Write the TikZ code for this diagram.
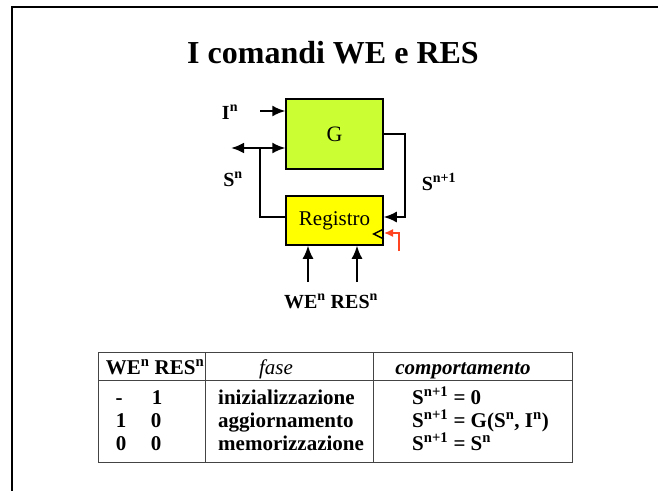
\documentclass[tikz,border=0pt]{standalone}
\usepackage{fontspec}
\setmainfont{Liberation Serif}
\usetikzlibrary{arrows.meta,calc}
\newcommand\supr[1]{\textsuperscript{#1}}
\definecolor{gfill}{HTML}{CCFF33}
\definecolor{rfill}{HTML}{FFFF00}
\definecolor{clkred}{HTML}{FF4422}
\definecolor{tabline}{HTML}{444444}
\begin{document}
\begin{tikzpicture}[x=1pt,y=-1pt,
  blk/.style={draw=black,line width=1.5pt,inner sep=0pt},
  wire/.style={line width=1.7pt},
  arr/.style={wire,-{Latex[length=13pt,width=11pt]}},
  redarr/.style={draw=clkred,line width=1.4pt,-{Latex[length=9pt,width=8pt]}},
  lbl/.style={font=\fontsize{20}{22}\selectfont\bfseries,inner sep=0pt,anchor=base},
  tab/.style={font=\fontsize{21}{23}\selectfont\bfseries,inner sep=0pt,anchor=base},
  tabw/.style={tab,anchor=base west},
  tline/.style={draw=tabline,line width=1pt}]
\useasboundingbox (0,0) rectangle (658,490);
% frame
\draw[line width=2.5pt] (12,491) -- (12,7) -- (659,7);
% title
\node[font=\fontsize{32}{36}\selectfont\bfseries,inner sep=0pt,anchor=base] (title) at (333,63) {I comandi WE e RES};
% blocks
\node[blk,fill=gfill,minimum width=97pt,minimum height=70pt,font=\fontsize{22}{24}\selectfont] (G) at (334.5,134) {G};
\node[blk,fill=rfill,minimum width=97pt,minimum height=49pt,font=\fontsize{21}{24}\selectfont] (R) at (334.5,220.5) {Registro};
% input I
\coordinate (iin) at (260,111);
\draw[arr] (iin) -- (iin -| G.west);
\node[lbl] (lI) at (230,119) {I\supr{n}};
% state feedback
\coordinate (j) at (260,148);
\coordinate (sout) at (231,148);
\draw[wire] ([yshift=3.5pt]R.west) -| (j);
\draw[arr] (j) -- (j -| G.west);
\draw[line width=2.6pt,-{Latex[length=13pt,width=11pt]}] (j) -- (sout);
\node[lbl] (lS) at (233,186) {S\supr{n}};
% next state
\draw[arr] (G.east) -- ++(21,0) |- ([yshift=3.5pt]R.east);
\node[lbl] (lS1) at (439,190) {S\supr{n+1}};
% clock
\draw[line width=1.4pt] ([yshift=-8.5pt]R.east) -- ++(-10,5) -- ++(10,5);
\coordinate (clk) at (399,251);
\coordinate (clkin) at (384,233);
\draw[redarr] (clk) |- (clkin);
% WE / RES inputs
\coordinate (we) at (308,282);
\coordinate (res) at (357,282);
\draw[arr] (we) -- (we |- R.south);
\draw[arr] (res) -- (res |- R.south);
\node[lbl] (lwr) at (331,308) {WE\supr{n} RES\supr{n}};
% table
\draw[tline] (98,352) rectangle (572,462);
\draw[tline] (98,380) -- (572,380);
\draw[tline] (205,352) -- (205,462);
\draw[tline] (373,352) -- (373,462);
\node[tab] (h1) at (155,374) {WE\supr{n} RES\supr{n}};
\node[tab,font=\fontsize{21}{23}\selectfont\itshape] (h2) at (276,374) {fase};
\node[tab,font=\fontsize{21}{23}\selectfont\bfseries\itshape] (h3) at (463,374) {comportamento};
\node[tab] (a1) at (119,404) {-};
\node[tab] (b1) at (157,404) {1};
\node[tab] (a2) at (121,427) {1};
\node[tab] (b2) at (156,427) {0};
\node[tab] (a3) at (121,450) {0};
\node[tab] (b3) at (156,450) {0};
\node[tabw] (f1) at (218,404) {inizializzazione};
\node[tabw] (f2) at (218,427) {aggiornamento};
\node[tabw] (f3) at (218,450) {memorizzazione};
\node[tabw] (c1) at (412,404) {S\supr{n+1} = 0};
\node[tabw] (c2) at (412,427) {S\supr{n+1} = G(S\supr{n}, I\supr{n})};
\node[tabw] (c3) at (412,450) {S\supr{n+1} = S\supr{n}};
\end{tikzpicture}
\end{document}
